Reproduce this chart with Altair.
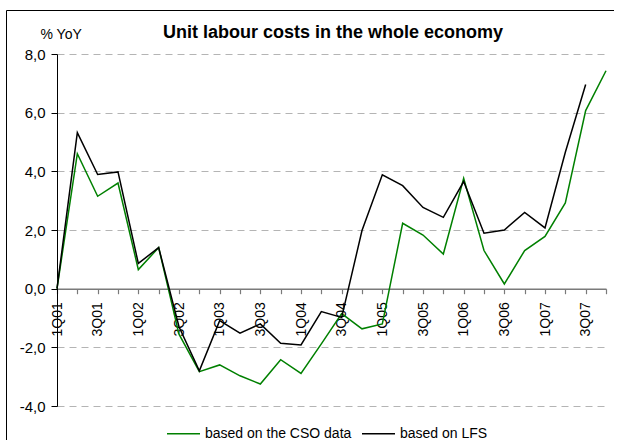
import json
import altair as alt
import pandas as pd

quarters = ['1Q01', '2Q01', '3Q01', '4Q01', '1Q02', '2Q02', '3Q02', '4Q02',
            '1Q03', '2Q03', '3Q03', '4Q03', '1Q04', '2Q04', '3Q04', '4Q04',
            '1Q05', '2Q05', '3Q05', '4Q05', '1Q06', '2Q06', '3Q06', '4Q06',
            '1Q07', '2Q07', '3Q07', '4Q07']
cso = [0.0, 4.6, 3.15, 3.6, 0.65, 1.4, -1.55, -2.83, -2.6, -2.97, -3.25, -2.42,
       -2.89, -1.88, -0.85, -1.37, -1.2, 2.23, 1.83, 1.18, 3.76, 1.3, 0.16, 1.3,
       1.78, 2.92, 6.07, 7.43]
lfs = [0.0, 5.32, 3.89, 3.98, 0.86, 1.4, -1.3, -2.8, -1.09, -1.52, -1.2, -1.86,
       -1.92, -0.78, -0.98, 1.98, 3.88, 3.51, 2.77, 2.43, 3.65, 1.89, 2.0, 2.6,
       2.07, 4.65, 6.96]
series_names = ['based on the CSO data', 'based on LFS']
series_colors = ['#008000', '#000000']
y_ticks = [-4, -2, 0, 2, 4, 6, 8]
shown_labels = quarters[::2]
title_text = 'Unit labour costs in the whole economy'
y_title = '% YoY'

rows = []
for q, v in zip(quarters, cso):
    rows.append({'q': q, 'v': v, 's': series_names[0]})
for q, v in zip(quarters, lfs):
    rows.append({'q': q, 'v': v, 's': series_names[1]})
df = pd.DataFrame(rows)

FONT = 'Liberation Sans'
W, H = 549, 352

lines = alt.Chart(df).mark_line(strokeWidth=1.5).encode(
    x=alt.X('q:N', sort=quarters,
            scale=alt.Scale(type='point', padding=0, domain=quarters),
            axis=alt.Axis(orient='bottom', offset=-117.3, labelAngle=-90,
                          labelExpr='indexof(' + json.dumps(shown_labels) + ', datum.value) >= 0 ? datum.value : ""',
                          labelPadding=8, tickSize=5, domainColor='#7a7a7a',
                          tickColor='#7a7a7a', domainWidth=1.5, tickWidth=1.2,
                          labelFont=FONT, labelFontSize=14, labelColor='black',
                          title=None, grid=False)),
    y=alt.Y('v:Q', scale=alt.Scale(domain=[-4, 8], nice=False, zero=False),
            axis=alt.Axis(values=y_ticks,
                          labelExpr="replace(replace(format(datum.value, '.1f'), '.', ','), '\u2212', '-')",
                          tickSize=6, domainColor='black', tickColor='black',
                          grid=True, gridDash=[7, 5], gridColor='#b4b4b4',
                          labelFont=FONT, labelFontSize=15, labelColor='black',
                          labelPadding=6,
                          title=y_title, titleAngle=0, titleX=-17, titleY=-16,
                          titleAlign='left', titleBaseline='alphabetic',
                          titleFontWeight='normal', titleFontSize=14,
                          titleFont=FONT, titleColor='black')),
    color=alt.Color('s:N', scale=alt.Scale(domain=series_names, range=series_colors),
                    legend=alt.Legend(orient='none', legendX=109, legendY=362,
                                      direction='horizontal', title=None,
                                      symbolType='stroke', symbolSize=1089,
                                      symbolStrokeWidth=1.5, labelFont=FONT,
                                      labelFontSize=14, labelColor='black',
                                      labelOffset=4, columnPadding=7)),
    order=alt.Order('idx:Q')
).transform_calculate(idx='indexof(' + json.dumps(quarters) + ', datum.q)')

title = alt.Chart(pd.DataFrame({'t': [title_text]})).mark_text(
    font=FONT, fontSize=18, fontWeight='bold', align='center',
    baseline='alphabetic', color='black'
).encode(text='t:N', x=alt.value(276), y=alt.value(-16.5))

one = pd.DataFrame({'a': [0]})
frame_top = alt.Chart(one).mark_rule(color='black', strokeWidth=1).encode(
    x=alt.value(-50.5), x2=alt.value(557), y=alt.value(-43.5))
frame_left = alt.Chart(one).mark_rule(color='black', strokeWidth=1).encode(
    x=alt.value(-50.5), y=alt.value(-43.5), y2=alt.value(386))

chart = alt.layer(frame_top, frame_left, lines, title).properties(
    width=W, height=H,
    autosize=alt.AutoSizeParams(type='none'),
    padding={'left': 57, 'top': 54, 'right': 8, 'bottom': 34},
    background='white'
).configure_view(stroke='transparent')

chart.save('out.html', embed_options={'renderer': 'svg', 'actions': False})
